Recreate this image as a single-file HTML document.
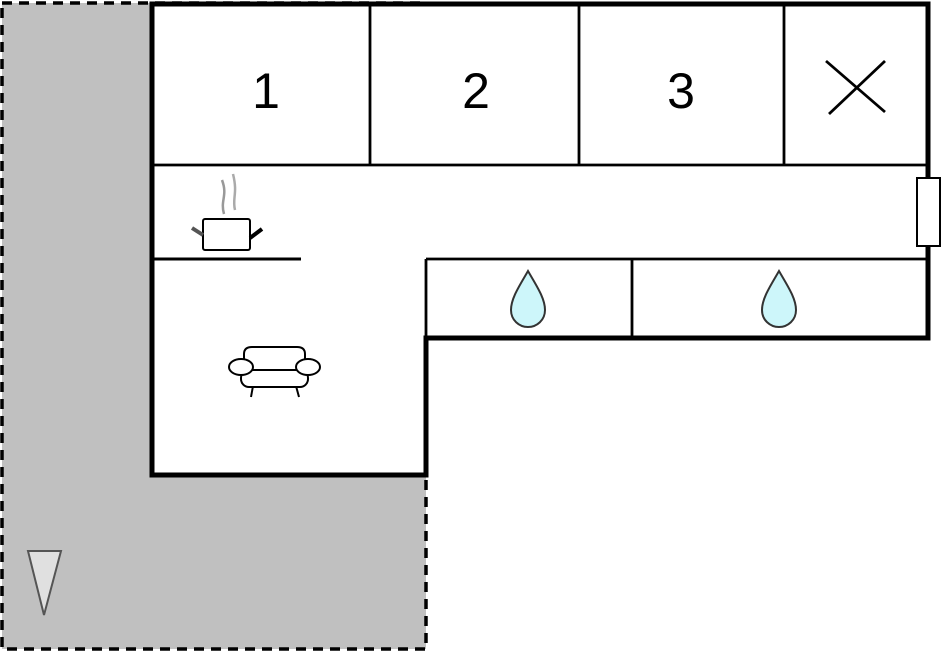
<!DOCTYPE html>
<html><head><style>html,body{margin:0;padding:0;background:#fff;}svg{display:block}</style></head>
<body>
<svg width="942" height="652" viewBox="0 0 942 652" xmlns="http://www.w3.org/2000/svg">
<rect x="0" y="0" width="942" height="652" fill="#fff"/>
<rect x="2" y="3" width="424" height="646" fill="#c0c0c0" stroke="#000" stroke-width="3.5" stroke-dasharray="10,7"/>
<polygon points="152,4 928,4 928,338 426,338 426,475 152,475" fill="#fff" stroke="#000" stroke-width="5"/>
<g stroke="#000" stroke-width="2.8" fill="none">
<line x1="152" y1="165" x2="928" y2="165"/>
<line x1="370" y1="4" x2="370" y2="165"/>
<line x1="579" y1="4" x2="579" y2="165"/>
<line x1="784" y1="4" x2="784" y2="165"/>
<line x1="152" y1="259" x2="301" y2="259" stroke-width="3"/>
<line x1="426" y1="259" x2="928" y2="259"/>
<line x1="426" y1="259" x2="426" y2="338"/>
<line x1="632" y1="259" x2="632" y2="338"/>
<line x1="826" y1="61" x2="885" y2="112"/>
<line x1="885" y1="61" x2="829" y2="114"/>
</g>
<rect x="917" y="178" width="23" height="68" fill="#fff" stroke="#000" stroke-width="2"/>
<g font-family="Liberation Sans, sans-serif" font-size="50" text-anchor="middle" fill="#000">
<text x="266" y="108">1</text><text x="476" y="108">2</text><text x="681" y="108">3</text>
</g>
<g fill="#cdf6fa" stroke="#333" stroke-width="2">
<path d="M528,271 C520,285 511,298 511,310 C511,320 519,327 528,327 C537,327 545,320 545,310 C545,298 536,285 528,271 Z"/>
<path d="M779,271 C771,285 762,298 762,310 C762,320 770,327 779,327 C788,327 796,320 796,310 C796,298 787,285 779,271 Z"/>
</g>
<g stroke="#000" stroke-width="2" fill="#fff">
<rect x="203" y="219" width="47" height="31" rx="2"/>
</g>
<line x1="192" y1="228" x2="203" y2="235" stroke="#555" stroke-width="4"/>
<line x1="250" y1="238" x2="262" y2="229" stroke="#000" stroke-width="4"/>
<path d="M224,214 C220,200 228,196 222,180" stroke="#999" stroke-width="2.5" fill="none"/>
<path d="M235,210 C232,198 238,194 233,174" stroke="#aaa" stroke-width="2.5" fill="none"/>
<g stroke="#000" stroke-width="2" fill="#fff">
<line x1="253" y1="386" x2="251" y2="397"/>
<line x1="296" y1="386" x2="299" y2="397"/>
<path d="M244,370 L244,354 Q244,347 252,347 L297,347 Q305,347 305,354 L305,370 Z"/>
<rect x="241" y="370" width="67" height="17" rx="8"/>
<ellipse cx="241" cy="367" rx="12" ry="8"/>
<ellipse cx="308" cy="367" rx="12" ry="8"/>
</g>
<polygon points="28,551 61,551 44,615" fill="#e0e0e0" stroke="#555" stroke-width="2"/>
</svg>
</body></html>
